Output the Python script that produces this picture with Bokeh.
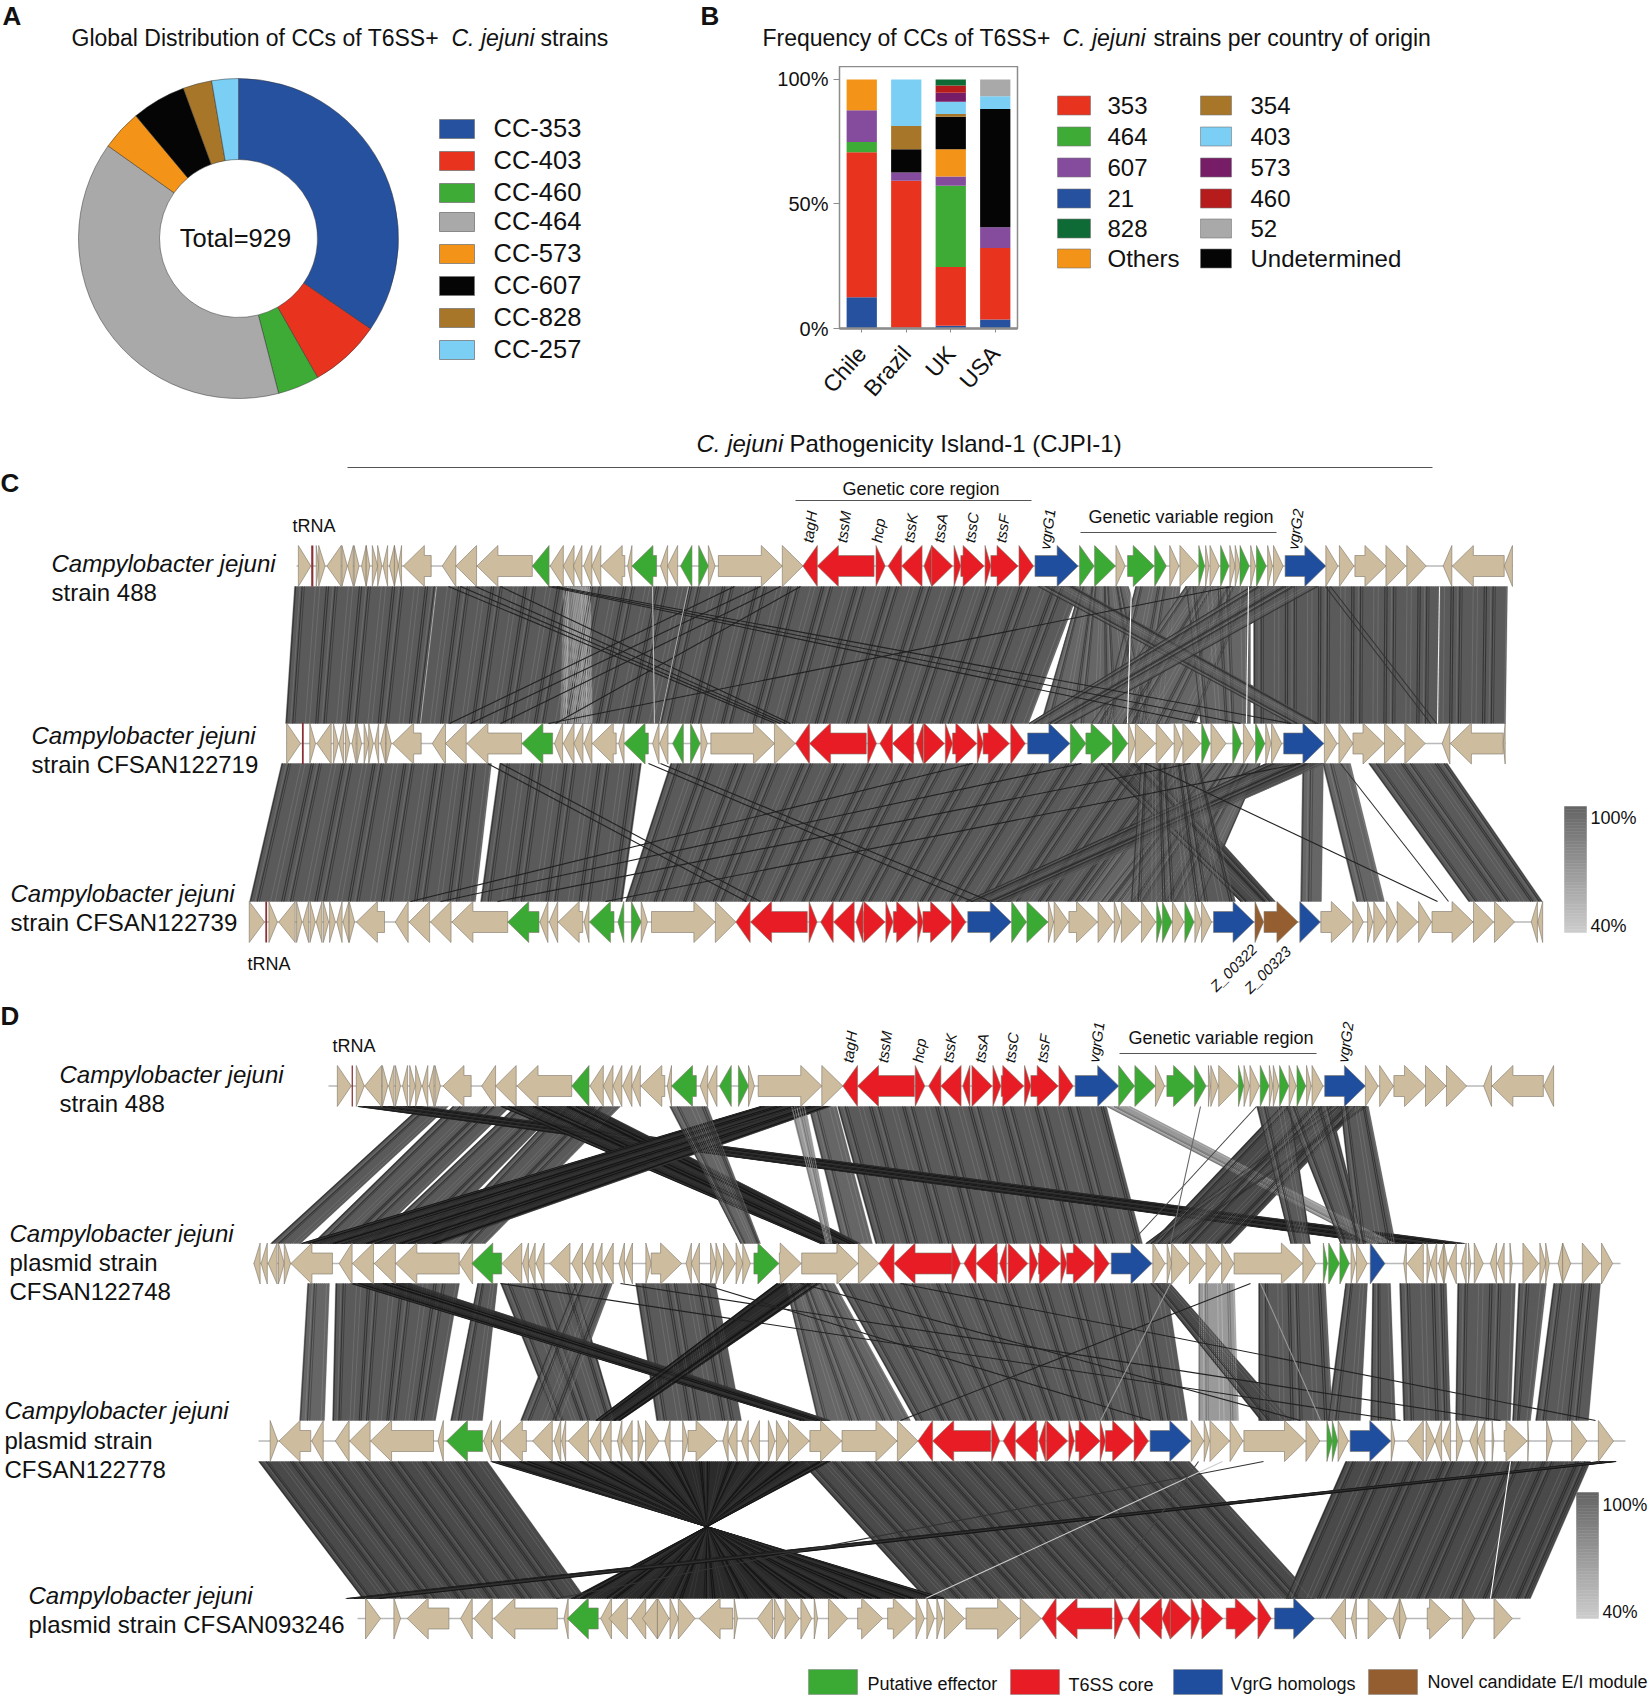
import numpy as np
from bokeh.plotting import figure
from bokeh.layouts import column, row
from bokeh.models import Range1d, FactorRange, ColumnDataSource, FixedTicker
from bokeh.core.properties import value
from bokeh.embed import file_html
from bokeh.resources import INLINE

FONT = "Liberation Sans"

# ---------- panel A data ----------
cc_names = ["CC-353", "CC-403", "CC-460", "CC-464", "CC-573", "CC-607", "CC-828", "CC-257"]
cc_counts = [321, 67, 39, 361, 38, 51, 27, 25]
cc_colors = ["#26519F", "#E8331F", "#3EAB36", "#A9A9A9", "#F39318", "#050505", "#A87628", "#7BCFF5"]
cc_key_y = [129, 161, 193, 222, 254, 286, 318, 350]

# ---------- panel B data ----------
countries = ["Chile", "Brazil", "UK", "USA"]
stack_keys = ["21", "353", "464", "607", "Others", "Undetermined", "354", "403", "573", "460", "828", "52"]
stack_colors = ["#26519F", "#E8331F", "#3EAB36", "#854C9E", "#F39318", "#050505", "#A87628", "#7BCFF5",
                "#771C66", "#B71C1C", "#0F6B35", "#A9A9A9"]
v21 = [12.5, 0.3, 1.1, 3.6]
v353 = [58.3, 59.0, 23.6, 28.7]
v464 = [4.1, 0, 32.6, 0]
v607 = [12.7, 3.3, 3.7, 8.4]
vothers = [12.4, 0, 11.0, 0]
vundet = [0, 9.4, 13.0, 47.4]
v354 = [0, 9.3, 1.1, 0]
v403 = [0, 18.7, 4.9, 5.2]
v573 = [0, 0, 3.7, 0]
v460 = [0, 0, 2.9, 0]
v828 = [0, 0, 2.4, 0]
v52 = [0, 0, 0, 6.7]
legend_col1 = ["353", "464", "607", "21", "828", "Others"]
legend_col2 = ["354", "403", "573", "460", "52", "Undetermined"]
legend_rows = [105, 136, 167, 198, 228, 258]

# ---------- gene tracks: (start, end, direction[, kind]) ----------
# kinds: t tan, r red, g green, b blue, w brown, n tRNA; direction +1 right, -1 left
C1a = (270, 2.8, [(78,113,1),(114,120,0,"n"),(128,135,1),(135,153,1),(158,198,-1),(200,215,1),(216,232,-1),(234,248,1),(255,268,-1),(268,278,1),(285,300,1),(300,312,1),(315,328,-1),(333,347,-1),(347,358,1),(358,367,-1),
      (372,450,-1),(481,519,-1),(519,577,-1),(578,733,-1),(733,780,-1,"g"),(783,820,-1),(820,850,-1),(848,872,-1),(877,900,-1),(900,925,-1),(926,992,-1),(1000,1012,-1),(1012,1081,-1,"g"),(1092,1112,-1),(1112,1140,-1),(1148,1180,-1,"g"),(1199,1226,1,"g"),(1226,1245,1),(1254,1433,1),(1433,1491,1)])
C1b = (780, 2.063, [(46,76,-1,"r"),(76,193,-1,"r"),(197,216,1,"r"),(222,250,-1,"r"),(250,292,-1,"r"),(296,312,-1,"r"),(312,355,1,"r"),(358,372,1,"r"),(372,420,1,"r"),(422,434,1,"r"),(434,490,1,"r"),(492,522,1,"r"),
      (525,614,1,"b"),(617,647,1,"g"),(648,691,1,"g"),(692,711,1),(716,771,1,"g"),(772,796,1,"g"),(803,822,1),(824,862,1),(863,875,1,"g"),(877,884,1),(886,905,1),(908,925,1,"g"),(927,938,1),(938,948,1),(948,967,1,"g"),(970,980,1),(982,1002,1,"g"),(1005,1015,1),(1017,1037,1),(1041,1125,1,"b"),(1125,1150,1),(1153,1183,1),(1185,1249,1),(1249,1290,1),(1292,1332,1),(1367,1385,-1),(1386,1493,-1),(1493,1510,-1)])
C2a = (270, 2.8, [(45,84,1),(88,93,0,"n"),(110,126,1),(130,170,-1),(176,190,1),(192,205,-1),(210,222,1),(228,240,-1),(242,255,1),(262,275,1),(275,288,1),(292,303,-1),(308,322,-1),(324,338,1),
      (342,422,-1),(453,490,-1),(490,548,-1),(550,703,-1),(704,790,-1,"g"),(795,818,-1),(820,850,-1),(850,875,-1),(878,900,-1),(901,968,-1),(975,990,-1),(990,1058,-1,"g"),(1070,1088,-1),(1090,1113,-1),(1126,1156,-1,"g"),(1176,1203,1,"g"),(1205,1223,1),(1233,1411,1),(1411,1469,1)])
C2b = (780, 2.063, [(31,60,-1,"r"),(60,177,-1,"r"),(180,198,1,"r"),(205,231,-1,"r"),(231,275,-1,"r"),(280,295,-1,"r"),(296,338,1,"r"),(340,355,1,"r"),(355,405,1,"r"),(406,418,1,"r"),(418,472,1,"r"),(475,505,1,"r"),
      (510,597,1,"b"),(598,630,1,"g"),(630,684,1,"g"),(685,716,1,"g"),(718,732,1),(732,773,1),(775,810,1),(812,829,1),(830,867,1),(869,886,1,"g"),(888,919,1),(933,951,1,"g"),(955,979,1),(980,999,1,"g"),(1001,1012,1),(1013,1034,1),(1038,1121,1,"b"),(1122,1148,1),(1152,1181,1),(1181,1245,1),(1246,1287,1),(1288,1330,1),(1365,1381,-1),(1382,1491,-1),(1491,1495,-1)])
C3a = (230, 2.24, [(42,76,1),(78,82,0,"n"),(86,105,1),(108,145,-1),(148,160,1),(162,175,-1),(178,190,1),(192,205,-1),(208,220,1),(222,235,1),(238,250,-1),(252,265,-1),(266,278,1),
      (282,345,-1),(369,398,-1),(400,446,-1),(448,494,-1),(496,621,-1),(621,691,-1,"g"),(693,711,-1),(714,733,-1),(734,789,-1),(792,803,-1),(804,859,-1,"g"),(868,881,-1,"g"),(898,920,1,"g"),(920,934,1),(943,1085,1),(1086,1132,1),(1132,1164,-1,"r"),(1165,1292,-1,"r"),(1296,1314,1,"r"),(1322,1350,-1,"r"),(1351,1397,-1,"r"),(1401,1417,-1,"r"),(1418,1466,1,"r"),(1468,1484,1,"r")])
C3b = (900, 2.096, [(-15,36,1,"r"),(36,47,1,"r"),(47,107,1,"r"),(107,137,1,"r"),(141,232,1,"b"),(233,264,1,"g"),(265,309,1,"g"),(310,321,1),(322,352,1),(353,413,1),(414,446,1),(448,462,1),(463,503,1),(505,535,1),(537,548,1,"g"),(549,569,1,"g"),(570,594,1),(596,615,1,"g"),(617,631,1),(631,652,1),(656,741,1,"b"),(743,761,1,"w"),(762,833,1,"w"),(837,880,1,"b"),(881,947,1),(948,970,1),(979,990,1),(992,1018,1),(1019,1040,1),(1041,1084,1),(1086,1113,1),(1114,1200,1),(1201,1243,1),(1245,1287,1),(1322,1335,-1),(1336,1346,-1)])
D1a = (320, 2.376, [(40,73,1),(74,77,0,"n"),(85,104,1),(105,145,-1),(147,160,1),(162,175,-1),(178,190,1),(195,207,-1),(212,225,1),(226,240,1),(242,255,-1),(258,270,-1),(272,285,1),
      (291,358,-1),(383,416,-1),(416,465,-1),(467,597,-1),(597,638,-1,"g"),(640,672,-1),(672,695,-1),(695,716,-1),(718,740,-1),(740,760,-1),(761,818,-1),(824,834,-1),(834,893,-1,"g"),(902,920,-1),(920,942,-1),(948,976,-1,"g"),(993,1017,1,"g"),(1017,1031,1),(1040,1191,1),(1191,1241,1),(1241,1276,-1,"r"),(1276,1411,-1,"r"),(1413,1436,1,"r"),(1445,1474,-1,"r"),(1474,1522,-1,"r"),(1526,1543,-1,"r")])
D1b = (960, 2.529, [(29,80,1,"r"),(82,102,1,"r"),(103,160,1,"r"),(162,178,1,"r"),(178,247,1,"r"),(249,285,1,"r"),(290,400,1,"b"),(400,440,1,"g"),(441,493,1,"g"),(493,516,1),(522,592,1,"g"),(592,621,1,"g"),(627,632,1),(633,652,1),(653,703,1),(703,716,1,"g"),(717,731,1),(732,756,1),(758,780,1,"g"),(781,790,1),(791,805,1),(807,830,1,"g"),(831,849,1),(851,873,1,"g"),(875,887,1),(889,917,1),(921,1024,1,"b"),(1024,1056,1),(1060,1095,1),(1096,1176,1),(1176,1228,1),(1229,1280,1),(1323,1343,-1),(1344,1474,-1),(1475,1500,-1)])
D2a = (240, 2.24, [(30,44,-1),(46,60,-1),(62,82,-1),(85,98,1),(98,112,1),(113,206,-1),(221,250,-1),(251,298,-1),(300,347,-1),(348,490,-1),(490,520,-1),(518,585,-1,"g"),(586,630,-1),(632,645,-1),(645,660,-1),(662,680,-1),(693,738,-1),(742,766,-1),(770,790,-1),(795,810,-1),(812,835,-1),(848,860,-1),(862,878,-1),(908,920,1),(920,988,1),(998,1010,-1),(1010,1028,-1),(1053,1065,1),(1065,1080,1),(1082,1108,1),(1110,1125,1),(1125,1142,1),(1150,1206,1,"g"),(1207,1256,1),(1257,1383,1),(1384,1430,1),(1430,1464,-1,"r"),(1464,1600,-1,"r")])
D2b = (930, 2.24, [(48,67,1,"r"),(75,102,-1,"r"),(102,150,-1,"r"),(155,170,-1,"r"),(174,218,1,"r"),(222,240,1,"r"),(242,291,1,"r"),(292,305,1,"r"),(305,367,1,"r"),(367,400,1,"r"),(405,496,1,"b"),(498,525,1),(530,540,1),(540,578,1),(580,615,1),(617,650,1),(652,679,1),(680,833,1),(834,863,1),(880,889,1,"g"),(892,916,1,"g"),(917,938,1,"g"),(942,952,1),(954,978,1),(985,1018,1,"b"),(1060,1066,-1),(1068,1104,-1),(1112,1120,1),(1120,1134,-1),(1138,1150,-1),(1150,1158,1),(1160,1178,-1),(1188,1200,-1),(1205,1210,1),(1218,1238,1),(1254,1268,-1),(1270,1285,-1),(1298,1303,1),(1327,1362,1),(1365,1378,1),(1378,1386,1),(1406,1416,-1),(1416,1434,1),(1460,1498,1),(1503,1528,1)])
D3a = (250, 2.24, [(44,61,1),(64,135,-1),(137,163,-1),(190,221,-1),(222,268,-1),(269,410,-1),(420,432,-1),(439,520,-1,"g"),(522,540,-1),(542,560,-1),(562,618,-1),(632,676,-1),(680,695,-1),(697,706,-1),(712,757,-1),(760,785,-1),(788,808,-1),(822,832,-1),(832,855,-1),(868,880,1),(885,915,1),(928,940,-1),(968,980,1),(980,1045,1),(1058,1070,-1),(1070,1090,-1),(1100,1115,-1),(1120,1140,-1),(1160,1175,1),(1178,1204,1),(1205,1252,1),(1253,1324,1),(1325,1448,1),(1449,1495,1),(1495,1528,-1,"r")])
D3b = (930, 2.24, [(5,135,-1,"r"),(137,155,1,"r"),(163,190,-1,"r"),(190,240,-1,"r"),(243,258,-1,"r"),(260,307,1,"r"),(310,322,1,"r"),(325,380,1,"r"),(380,392,1,"r"),(392,455,1,"r"),(456,488,1,"r"),(492,583,1,"b"),(584,612,1),(613,625,1),(626,670,1),(671,700,1),(702,840,1),(841,872,1),(888,900,1,"g"),(900,912,1,"g"),(913,936,1),(940,1031,1,"b"),(1032,1040,1),(1068,1104,-1),(1110,1130,1),(1130,1145,-1),(1148,1165,-1),(1178,1192,1),(1208,1225,-1),(1225,1242,-1),(1258,1262,1),(1285,1336,1),(1338,1340,1),(1380,1393,1),(1436,1470,1),(1496,1530,1)])
D4a = (340, 1.199, [(30,48,1),(64,72,1),(80,130,-1),(144,158,-1),(160,182,-1),(184,260,-1),(268,273,-1),(272,309,-1,"g"),(312,325,-1),(322,344,-1),(348,366,-1),(362,380,-1),(380,394,1),(395,405,1),(405,425,1),(430,470,-1),(472,476,1),(500,518,-1),(520,532,1),(533,550,1),(552,565,1),(568,572,1),(585,608,1),(620,650,1),(656,688,1),(690,700,1),(703,712,1),(715,722,1),(724,748,1),(750,813,1),(815,840,1),(841,858,-1,"r"),(858,925,-1,"r"),(928,938,1,"r"),(944,958,-1,"r"),(959,985,-1,"r"),(985,995,-1,"r"),(995,1020,1,"r"),(1020,1030,1,"r"),(1032,1058,1,"r"),(1062,1098,1,"r"),(1100,1116,1,"r"),(1120,1168,1,"b"),(1187,1205,-1),(1212,1218,-1),(1232,1255,1),(1262,1270,-1),(1270,1278,1),(1303,1331,1),(1345,1360,1),(1383,1405,1)])
track_genes = [[C1a, C1b], [C2a, C2b], [C3a, C3b], [D1a, D1b], [D2a, D2b], [D3a, D3b], [D4a]]
track_y = [565.5, 743, 921.5, 1085.5, 1263, 1440.5, 1618]
track_span = [(296, 1512), (286, 1505), (249, 1542), (328, 1553), (253, 1620), (258, 1625), (357, 1520)]

# ---------- alignment ribbons: top start, top end, bottom start, bottom end, tone ----------
gap_C12 = [(294,1080,285,1028,"n"),(1253,1507,1253,1505,"n"),(1080,1128,1040,1170,"m"),(1135,1180,1100,1165,"m"),(1185,1252,1090,1195,"m"),(1185,1250,1200,1250,"m"),(1037,1075,1290,1320,"n"),(1250,1318,1028,1070,"n"),(563,590,560,592,"l")]
gap_C23 = [(281,491,249,475,"n"),(499,641,480,622,"n"),(670,1180,625,1080,"n"),(1180,1240,1080,1135,"m"),(1210,1260,1100,1200,"m"),(1302,1323,1300,1321,"m"),(1322,1350,1356,1384,"m"),(1368,1447,1468,1542,"n"),(1100,1150,1240,1275,"d"),(1265,1325,965,1010,"d"),(1140,1200,1130,1235,"n")]
gap_D12 = [(837,1106,875,1142,"n"),(808,836,842,872,"m"),(420,448,270,300,"n"),(452,510,312,368,"n"),(515,560,370,425,"n"),(560,620,432,485,"n"),(357,420,1380,1465,"k"),(500,590,820,860,"k"),(760,830,300,440,"k"),(669,707,740,760,"m"),(790,805,825,832,"l"),(1106,1130,1370,1395,"l"),(1330,1367,1145,1170,"d"),(1280,1360,1150,1230,"d"),(1256,1290,1290,1310,"n"),(1285,1330,1340,1365,"n"),(1340,1368,1355,1395,"n")]
gap_D23 = [(307,329,299,324,"m"),(335,459,332,435,"n"),(477,497,450,482,"n"),(500,575,555,615,"n"),(575,612,520,560,"n"),(635,715,656,741,"n"),(785,834,817,910,"m"),(838,1166,915,1187,"n"),(1258,1325,1258,1332,"n"),(1345,1367,1327,1360,"n"),(1372,1390,1370,1395,"n"),(1399,1446,1403,1450,"n"),(1457,1515,1455,1510,"n"),(1518,1546,1512,1530,"n"),(1553,1600,1535,1588,"n"),(1198,1234,1198,1238,"l"),(350,410,800,830,"k"),(776,820,595,620,"k"),(1150,1170,1260,1290,"d")]
gap_D34 = [(258,487,362,585,"d"),(800,1189,925,1314,"d"),(1345,1590,1285,1530,"d"),(490,830,945,570,"k"),(1600,1616,345,380,"k")]
gaps = [(586, 723, gap_C12), (763, 901, gap_C23), (1106, 1243, gap_D12), (1283, 1420, gap_D23), (1461, 1598, gap_D34)]
# thin single hits: top x, bottom x, colour
hits_C12 = [(448,775,"#222"),(460,780,"#222"),(475,785,"#222"),(500,790,"#222"),(734,449,"#222"),(760,470,"#222"),(780,500,"#222"),(800,555,"#222"),(548,1200,"#222"),(552,1240,"#222"),(556,1290,"#222"),(1231,548,"#222"),(1325,1430,"#333"),(1330,1436,"#333"),(436,420,"#aaa"),(652,654,"#bbb"),(688,659,"#aaa"),(1131,1127,"#fff"),(1248,1246,"#fff"),(1439,1437,"#eee")]
hits_C23 = [(972,410,"#222"),(1081,440,"#222"),(1190,497,"#222"),(1300,605,"#222"),(487,746,"#222"),(500,760,"#222"),(648,972,"#222"),(660,990,"#222"),(1145,1437,"#222"),(1340,1448,"#333")]
hits_D12 = [(800,340,"#333"),(1256,1130,"#444"),(1200,1170,"#666")]
hits_D23 = [(700,1150,"#222"),(800,1300,"#222"),(900,1595,"#222"),(500,1400,"#222"),(620,1500,"#222"),(1250,900,"#222"),(1170,1100,"#999"),(1260,1320,"#999")]
hits_D34 = [(1263,556,"#333"),(1222,925,"#ccc"),(1198,1100,"#444"),(1510,1490,"#fff")]
hits = [(586, 723, hits_C12), (763, 901, hits_C23), (1106, 1243, hits_D12), (1283, 1420, hits_D23), (1461, 1598, hits_D34)]

tone_base = {"n": "#5a5a5a", "m": "#666666", "l": "#9a9a9a", "d": "#4a4a4a", "k": "#2b2b2b"}
tone_dark = {"n": "#353535", "m": "#414141", "l": "#777777", "d": "#2e2e2e", "k": "#151515"}
tone_light = {"n": "#747474", "m": "#808080", "l": "#bbbbbb", "d": "#686868", "k": "#3c3c3c"}
gene_color = {"t": "#CDBC9E", "r": "#E81C24", "g": "#3AAA35", "b": "#1F4E9E", "w": "#955E30", "n": "#8A2F35"}

# ---------- texts ----------
left_labels = [("Campylobacter jejuni", 51, 563, "italic"), ("strain 488", 51, 592, "normal"),
               ("Campylobacter jejuni", 31, 735, "italic"), ("strain CFSAN122719", 31, 764, "normal"),
               ("Campylobacter jejuni", 10, 893, "italic"), ("strain CFSAN122739", 10, 922, "normal"),
               ("Campylobacter jejuni", 59, 1074, "italic"), ("strain 488", 59, 1103, "normal"),
               ("Campylobacter jejuni", 9, 1233, "italic"), ("plasmid strain", 9, 1262, "normal"), ("CFSAN122748", 9, 1291, "normal"),
               ("Campylobacter jejuni", 4, 1410, "italic"), ("plasmid strain", 4, 1440, "normal"), ("CFSAN122778", 4, 1469, "normal"),
               ("Campylobacter jejuni", 28, 1595, "italic"), ("plasmid strain CFSAN093246", 28, 1624, "normal")]
gene_tags_C = [("tagH", 807, 542), ("tssM", 841, 542), ("hcp", 876, 542), ("tssK", 908, 542), ("tssA", 938, 542), ("tssC", 969, 542), ("tssF", 1000, 542), ("vgrG1", 1044, 549), ("vgrG2", 1292, 549)]
gene_tags_D = [("tagH", 847, 1062), ("tssM", 882, 1062), ("hcp", 917, 1062), ("tssK", 947, 1062), ("tssA", 979, 1062), ("tssC", 1009, 1062), ("tssF", 1041, 1062), ("vgrG1", 1093, 1062), ("vgrG2", 1342, 1062)]
small_texts = [("tRNA", 292, 525), ("tRNA", 247, 963), ("tRNA", 332, 1045), ("Genetic core region", 842, 488), ("Genetic variable region", 1088, 516), ("Genetic variable region", 1128, 1037)]
rules = [(347, 1432, 467), (795, 1031, 500), (1080, 1276, 532), (1119, 1316, 1053)]
key_names = ["Putative effector", "T6SS core", "VgrG homologs", "Novel candidate E/I module"]
key_colors = ["#3AAA35", "#E81C24", "#1F4E9E", "#955E30"]
key_left = [808, 1010, 1173, 1368]
key_text_x = [867, 1068, 1230, 1427]
key_text_y = [1684, 1685, 1684, 1682]
scale_boxes = [(1564, 1586, 806, 932, 1590, 817, 925, 18), (1576, 1598, 1492, 1618, 1602, 1504, 1611, 17.5)]


def blank(width, height, xr, yr):
    p = figure(width=width, height=height, x_range=xr, y_range=yr, toolbar_location=None, output_backend="svg",
               min_border=0, outline_line_color=None, background_fill_color="white", x_axis_location=None, y_axis_location=None,
               frame_align=False)
    p.grid.visible = False
    return p


def put(p, x, y, text, size, style="normal", align="left", angle=0):
    p.text([x], [y], text=[text], text_font=value(FONT), text_font_size=f"{size}px", text_font_style=style,
           text_align=align, text_baseline="middle", text_color="#111111", angle=angle, angle_units="deg")


# ---------- panel A (pie centred on its own origin) ----------
CX, CY = 238, 238
pa = blank(700, 430, Range1d(-CX, 700 - CX), Range1d(CY - 430, CY))
frac = np.array(cc_counts) / sum(cc_counts) * 2 * np.pi
ends = np.cumsum(frac)
starts = ends - frac
src = ColumnDataSource(dict(start=np.pi / 2 - starts, end=np.pi / 2 - ends, color=cc_colors, name=cc_names))
pa.annular_wedge(x=0, y=0, inner_radius=79, outer_radius=160, start_angle="start", end_angle="end",
                 direction="clock", fill_color="color", line_color="#333333", line_width=0.5, source=src)
for name, col, ky in zip(cc_names, cc_colors, cc_key_y):
    pa.quad(left=439 - CX, right=474 - CX, top=CY - (ky - 10), bottom=CY - (ky + 9), fill_color=col, line_color="#777777", line_width=0.8)
    put(pa, 493 - CX, CY - (ky - 1.5), name, 25.5)
put(pa, 71 - CX, CY - 37, "Global Distribution of CCs of T6SS+", 23)
put(pa, 451 - CX, CY - 37, "C. jejuni", 23, "italic")
put(pa, 540 - CX, CY - 37, "strains", 23)
put(pa, 2 - CX, CY - 15, "A", 26, "bold")
put(pa, -3, 1, "Total=929", 25.5, "normal", "center")

# ---------- panel B: title strip, bars, key ----------
pt = blank(948, 66, Range1d(700, 1648), Range1d(66, 0))
put(pt, 700, 15, "B", 26, "bold")
put(pt, 762, 37, "Frequency of CCs of T6SS+", 23)
put(pt, 1062, 37, "C. jejuni", 23, "italic")
put(pt, 1153, 37, "strains per country of origin", 23)

pb = figure(width=340, height=364, x_range=FactorRange(*countries, range_padding=0, factor_padding=0), y_range=Range1d(0, 105.2),
            toolbar_location=None, output_backend="svg", min_border_left=139, min_border_right=23, min_border_top=0, min_border_bottom=102,
            outline_line_color="#8c8c8c", outline_line_width=1.5, frame_align=False)
pb.xgrid.visible = False
pb.ygrid.visible = False
data = dict(country=countries)
for k, v in zip(stack_keys, [v21, v353, v464, v607, vothers, vundet, v354, v403, v573, v460, v828, v52]):
    data[k] = v
pb.vbar_stack(stack_keys, x="country", width=0.68, color=stack_colors, line_color=None, source=ColumnDataSource(data))
pb.yaxis.ticker = FixedTicker(ticks=[0, 50, 100])
pb.yaxis.major_label_overrides = {0: "0%", 50: "50%", 100: "100%"}
pb.yaxis.major_label_text_font = FONT
pb.yaxis.major_label_text_font_size = "20px"
pb.yaxis.minor_tick_line_color = None
pb.yaxis.major_tick_in = 0
pb.yaxis.major_tick_out = 6
pb.yaxis.axis_line_color = "#8c8c8c"
pb.yaxis.major_tick_line_color = "#8c8c8c"
pb.xaxis.major_label_orientation = 0.85
pb.xaxis.major_label_standoff = 17
pb.xaxis.major_label_text_font = FONT
pb.xaxis.major_label_text_font_size = "23px"
pb.xaxis.major_tick_in = 0
pb.xaxis.major_tick_out = 4
pb.xaxis.axis_line_color = "#8c8c8c"
pb.xaxis.axis_line_width = 2.5
pb.xaxis.major_tick_line_color = "#8c8c8c"
pb.xaxis.major_label_text_color = "#111111"
pb.yaxis.major_label_text_color = "#111111"

pk = blank(608, 364, Range1d(1040, 1648), Range1d(430, 66))
color_of = dict(zip(stack_keys, stack_colors))
for keys, sw_left, sw_right, txt_x in ((legend_col1, 1057, 1090, 1107), (legend_col2, 1200, 1231, 1250)):
    for k, ky in zip(keys, legend_rows):
        pk.quad(left=sw_left, right=sw_right, top=ky - 9.5, bottom=ky + 9.5, fill_color=color_of[k], line_color="#777777", line_width=0.6)
        put(pk, txt_x, ky, k, 24)

# ---------- panels C and D ----------
pg = blank(1648, 1265, Range1d(0, 1648), Range1d(1695, 430))
for y0, y1, bands in gaps:
    bx, by, bc = [], [], []
    sx0, sx1, sy0, sy1, sc, sw = [], [], [], [], [], []
    for a, b, c, d, tone in bands:
        bx.append([a, b, d, c]); by.append([y0, y0, y1, y1]); bc.append(tone_base[tone])
        # hatch of individual hits inside the block: pure texture of the ribbon
        n = max(2, int(max(abs(b - a), abs(d - c)) / 2.2))
        pos = (np.arange(n) + 0.5) / n
        for i, t in enumerate(pos):
            pick = (i * i + i // 3) % 5
            sx0.append(a + (b - a) * t); sx1.append(c + (d - c) * t); sy0.append(y0); sy1.append(y1)
            sc.append(tone_dark[tone] if pick in (0, 2) else (tone_light[tone] if pick == 4 else tone_base[tone]))
            sw.append(1.1 if pick == 0 else 0.7)
    pg.patches(bx, by, fill_color=bc, line_color=bc, line_width=0.3)
    pg.segment(sx0, sy0, sx1, sy1, line_color=sc, line_width=sw)
for y0, y1, ls in hits:
    pg.segment([l[0] for l in ls], [y0] * len(ls), [l[1] for l in ls], [y1] * len(ls), line_color=[l[2] for l in ls], line_width=1.1)

HEAD, BODY, TIP = 21.0, 10.5, 20.5
for yc, (sa, sb) in zip(track_y, track_span):
    pg.segment([sa], [yc], [sb], [yc], line_color="#b9b9b9", line_width=1.5)
gx, gy, gc, tx0, tx1, ty0, ty1 = [], [], [], [], [], [], []
for yc, fragments in zip(track_y, track_genes):
    for origin, scale, genes in fragments:
        for g in genes:
            a, b, d = origin + g[0] / scale, origin + g[1] / scale, g[2]
            kind = g[3] if len(g) > 3 else "t"
            if d == 0:
                tx0.append(a); tx1.append(b); ty0.append(yc - TIP); ty1.append(yc + TIP)
                continue
            tip, base = (b, a) if d > 0 else (a, b)
            if abs(b - a) <= HEAD:
                xs = [base, tip, base]; ys = [yc - TIP, yc, yc + TIP]
            else:
                neck = tip - d * HEAD
                xs = [base, neck, neck, tip, neck, neck, base]
                ys = [yc - BODY, yc - BODY, yc - TIP, yc, yc + TIP, yc + BODY, yc + BODY]
            gx.append(xs); gy.append(ys); gc.append(gene_color[kind])
pg.patches(gx, gy, fill_color=gc, line_color="#7d7668", line_width=0.6)
pg.quad(left=tx0, right=tx1, bottom=ty1, top=ty0, fill_color=gene_color["n"], line_color=None)

for x0, x1, y in rules:
    pg.segment([x0], [y], [x1], [y], line_color="#555555", line_width=1)
for txt, x, y, st in left_labels:
    put(pg, x, y, txt, 24, st)
for tags in (gene_tags_C, gene_tags_D):
    for txt, x, y in tags:
        put(pg, x, y, txt, 15, "italic", "left", 82)
for txt, x, y in small_texts:
    put(pg, x, y, txt, 18)
put(pg, 1212, 988, "Z_00322", 15, "italic", "left", 45)
put(pg, 1246, 990, "Z_00323", 15, "italic", "left", 45)
put(pg, 696, 443, "C. jejuni", 24, "italic")
put(pg, 789, 443, "Pathogenicity Island-1 (CJPI-1)", 24)
put(pg, 0, 482, "C", 26, "bold")
put(pg, 0, 1015, "D", 26, "bold")
for x0, x1, y0, y1, tx, t100, t40, fs in scale_boxes:
    edges = np.linspace(y0, y1, 41)
    greys = np.linspace(0x66, 0xcc, 40).astype(int)
    cols = [f"#{v:02x}{v:02x}{v:02x}" for v in greys]
    pg.quad(left=x0, right=x1, top=edges[:-1], bottom=edges[1:], fill_color=cols, line_color=cols, line_width=0.5)
    put(pg, tx, t100, "100%", fs)
    put(pg, tx, t40, "40%", fs)
pg.quad(left=key_left, right=[v + 49 for v in key_left], top=1669, bottom=1694, fill_color=key_colors, line_color="#8a8a8a", line_width=0.6)
for n, x, y in zip(key_names, key_text_x, key_text_y):
    put(pg, x, y - 1, n, 18)

right = column(pt, row(pb, pk, spacing=0), spacing=0)
page = column(row(pa, right, spacing=0), pg, spacing=0, margin=0)
open("out.html", "w").write(file_html(page, INLINE))
